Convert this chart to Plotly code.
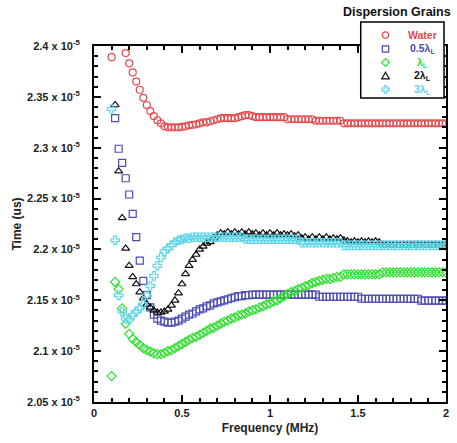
import numpy as np
import plotly.graph_objects as go

# Frequency grid (MHz): 0.10 .. 2.00, step 0.02 (96 points)
freq = [round(0.10 + 0.02 * i, 2) for i in range(96)]

# Time values in units of 1e-5 us (None = off the plotted range)
water = [2.389, None, None, None, 2.393, 2.383, 2.374, 2.365, 2.357, 2.349,
         2.342, 2.336, 2.331, 2.327, 2.324, 2.321, 2.320, 2.320, 2.320, 2.320,
         2.3205, 2.321, 2.322, 2.3225, 2.323, 2.324, 2.325, 2.325, 2.326, 2.327,
         2.328, 2.329, 2.329, 2.329, 2.329, 2.329, 2.330, 2.331, 2.332, 2.332,
         2.331, 2.330,
         2.330, 2.330, 2.330, 2.330, 2.330, 2.330, 2.330, 2.330,
         2.328, 2.328, 2.328, 2.328, 2.328, 2.328, 2.328, 2.328,
         2.3265, 2.3265, 2.3265, 2.3265, 2.3265, 2.3265, 2.3265, 2.3265,
         2.324, 2.324, 2.324, 2.324, 2.324, 2.324, 2.324, 2.324, 2.324, 2.324,
         2.324, 2.324, 2.324, 2.324, 2.324, 2.324, 2.324, 2.324, 2.324, 2.324,
         2.324, 2.324, 2.324, 2.324, 2.324, 2.324, 2.324, 2.324, 2.324, 2.324]

half_lambda = [None, 2.329, 2.299, 2.285, 2.270, 2.254, 2.235, 2.212, 2.189, 2.169,
               2.155, 2.143, 2.136, 2.132, 2.130, 2.129, 2.128, 2.128, 2.129, 2.130,
               2.132, 2.134, 2.136, 2.137, 2.139, 2.141, 2.142, 2.144, 2.145, 2.147,
               2.148, 2.149, 2.150, 2.151, 2.152, 2.153, 2.154, 2.154, 2.155, 2.155,
               2.1555, 2.1555,
               2.1555, 2.1555, 2.1555, 2.1555, 2.1555, 2.1555, 2.1555, 2.1555, 2.1555,
               2.1555, 2.1555, 2.1555, 2.1555, 2.1555, 2.1555, 2.1555, 2.1555,
               2.1535, 2.1535, 2.1535, 2.1535, 2.1535, 2.1535, 2.1535, 2.1535, 2.1535,
               2.1535, 2.1535, 2.1535,
               2.1515, 2.1515, 2.1515, 2.1515, 2.1515, 2.1515, 2.1515, 2.1515, 2.1515,
               2.1515, 2.1515, 2.1515, 2.1515, 2.1515, 2.1515, 2.1515, 2.1515,
               2.1497, 2.1497, 2.1497, 2.1497, 2.1497, 2.1497, 2.1497, 2.1497]

one_lambda = [2.0755, 2.168, 2.161, 2.142, 2.127, 2.117, 2.112, 2.109, 2.106, 2.103,
              2.101, 2.0995, 2.098, 2.097, 2.097, 2.098, 2.100, 2.101, 2.103, 2.105,
              2.107, 2.109, 2.111, 2.113, 2.114, 2.116, 2.118, 2.120, 2.122, 2.123,
              2.125, 2.127, 2.129, 2.130, 2.132, 2.133, 2.135, 2.136, 2.137, 2.139,
              2.140, 2.141, 2.143, 2.144, 2.146, 2.147, 2.149, 2.150, 2.152, 2.154,
              2.156, 2.158, 2.159, 2.161, 2.162, 2.164, 2.165, 2.167, 2.168, 2.169,
              2.170, 2.171, 2.171, 2.172, 2.173, 2.173,
              2.1755, 2.1755, 2.1755, 2.1755, 2.1755, 2.1755, 2.1755, 2.1755, 2.1755,
              2.1755, 2.1755,
              2.1775, 2.1775, 2.1775, 2.1775, 2.1775, 2.1775, 2.1775, 2.1775, 2.1775,
              2.1775, 2.1775, 2.1775, 2.1775, 2.1775, 2.1775, 2.1775, 2.1775, 2.1775,
              2.1775]

two_lambda = [None, 2.342, 2.277, 2.231, 2.201, 2.184, 2.173, 2.166, 2.158, 2.152,
              2.146, 2.143, 2.140, 2.138, 2.138, 2.139, 2.141, 2.145, 2.150, 2.157,
              2.166, 2.176, 2.184, 2.190, 2.195, 2.200, 2.203, 2.206, 2.2075, 2.211,
              2.214, 2.216, 2.215, 2.217, 2.215, 2.217, 2.215, 2.217, 2.215, 2.217,
              2.215, 2.216, 2.214, 2.216, 2.214, 2.216, 2.214, 2.216, 2.214, 2.215,
              2.214, 2.215, 2.213, 2.214, 2.211, 2.212, 2.210, 2.212, 2.210, 2.212,
              2.210, 2.212, 2.210, 2.211, 2.210, 2.211, 2.209, 2.208, 2.207, 2.208,
              2.207, 2.208, 2.207, 2.208, 2.207, 2.208, 2.207,
              2.2045, 2.2045, 2.2045, 2.2045, 2.2045, 2.2045, 2.2045, 2.2045, 2.2045,
              2.2045, 2.2045, 2.2045, 2.2045, 2.2045, 2.2045, 2.2045, 2.2045, 2.2045,
              2.2045]

three_lambda = [2.338, 2.209, 2.155, 2.139, 2.132, 2.131, 2.1355, 2.139, 2.142, 2.146,
                2.155, 2.164, 2.174, 2.184, 2.192, 2.198, 2.201, 2.204, 2.207, 2.209,
                2.210, 2.211, 2.211, 2.212, 2.212,
                2.212, 2.212, 2.212, 2.212, 2.212, 2.212, 2.212, 2.212, 2.212, 2.212,
                2.212, 2.212, 2.212,
                2.210, 2.210, 2.210, 2.210, 2.210, 2.210, 2.210, 2.210, 2.210, 2.210,
                2.210, 2.210, 2.210, 2.210, 2.210, 2.210,
                2.2065, 2.2065, 2.2065, 2.2065, 2.2065, 2.2065, 2.2065, 2.2065, 2.2065,
                2.2065, 2.2065, 2.2065,
                2.204, 2.204, 2.204, 2.204, 2.204, 2.204, 2.204, 2.204, 2.204, 2.204,
                2.204, 2.204, 2.204, 2.204, 2.204, 2.204, 2.204, 2.204, 2.204, 2.204,
                2.204, 2.204, 2.204, 2.204, 2.204, 2.204, 2.204, 2.204, 2.204, 2.204]

series_names = ["Water", "0.5λ<sub>L</sub>", "λ<sub>L</sub>", "2λ<sub>L</sub>", "3λ<sub>L</sub>"]
series_values = [water, half_lambda, one_lambda, two_lambda, three_lambda]
series_symbols = ["circle-open", "square-open", "diamond-open", "triangle-up-open", "cross-open"]
series_colors = ["#e5484a", "#4c4cb4", "#2fe02f", "#111111", "#5fd6ea"]

y_ticks = [2.05, 2.1, 2.15, 2.2, 2.25, 2.3, 2.35, 2.4]
x_ticks = [0, 0.5, 1, 1.5, 2]
SCALE = 1e-5

W, H = 457, 443
ML, MR, MT, MB = 94, 8, 46, 41
PW, PH = W - ML - MR, H - MT - MB


def px_x(px):
    return (px - ML) / PW


def px_y(py):
    return (H - MB - py) / PH


FONT = "Liberation Sans, Arial, Helvetica, sans-serif"
fig = go.Figure()
for name, vals, sym, col in zip(series_names, series_values, series_symbols, series_colors):
    yv = [None if v is None else v * SCALE for v in vals]
    fig.add_trace(go.Scatter(
        x=freq, y=yv, mode="markers", name=name, showlegend=False,
        marker=dict(symbol=sym, size=7, color=col, line=dict(width=1.2, color=col)),
    ))

axis_common = dict(
    showline=True, linecolor="black", linewidth=2, mirror="ticks",
    ticks="inside", ticklen=7, tickwidth=1.5, tickcolor="black",
    showgrid=False, zeroline=False,
    tickfont=dict(family=FONT, size=11, color="#222", weight="bold"),
)

fig.update_xaxes(
    **axis_common,
    range=[0, 2], tickvals=x_ticks, ticktext=[f"{t:g}" for t in x_ticks],
    minor=dict(tick0=0, dtick=0.1, ticks="inside", ticklen=4, tickwidth=1.5, tickcolor="black"),
    title=dict(text="Frequency (MHz)", font=dict(family=FONT, size=12, color="#222", weight="bold"),
               standoff=5),
)
fig.update_yaxes(
    **axis_common,
    range=[2.05 * SCALE, 2.4 * SCALE],
    tickvals=[t * SCALE for t in y_ticks],
    ticktext=[f"{t:g} x 10<sup>-5</sup>" for t in y_ticks],
    ticklabelstandoff=10,
    minor=dict(tick0=2.05 * SCALE, dtick=0.01 * SCALE, ticks="inside", ticklen=4,
               tickwidth=1.5, tickcolor="black"),
    title=dict(text="Time (us)", font=dict(family=FONT, size=12, color="#222", weight="bold"),
               standoff=3),
)

# ---- hand-built legend box (compact, like the original) ----
shapes = [dict(type="rect", xref="paper", yref="paper",
               x0=px_x(363), x1=px_x(447), y0=px_y(98), y1=px_y(22),
               fillcolor="white", line=dict(color="black", width=1.5), layer="above")]
annotations = []
row_y = [35, 49, 62.5, 76, 89.5]
sx, r = 388, 3.2
for i, (name, col) in enumerate(zip(series_names, series_colors)):
    cy = row_y[i]
    ln = dict(color=col, width=1.2)
    if i == 0:
        shapes.append(dict(type="circle", xref="paper", yref="paper",
                           x0=px_x(sx - r), x1=px_x(sx + r), y0=px_y(cy + r), y1=px_y(cy - r),
                           line=ln, layer="above"))
    elif i == 1:
        shapes.append(dict(type="rect", xref="paper", yref="paper",
                           x0=px_x(sx - r), x1=px_x(sx + r), y0=px_y(cy + r), y1=px_y(cy - r),
                           line=ln, layer="above"))
    elif i == 2:
        d = r + 0.8
        pts = [(sx, cy - d), (sx + d, cy), (sx, cy + d), (sx - d, cy)]
        path = "M" + " L".join(f"{px_x(a)},{px_y(b)}" for a, b in pts) + " Z"
        shapes.append(dict(type="path", xref="paper", yref="paper", path=path, line=ln, layer="above"))
    elif i == 3:
        d = r + 0.6
        pts = [(sx, cy - d), (sx + d, cy + d * 0.75), (sx - d, cy + d * 0.75)]
        path = "M" + " L".join(f"{px_x(a)},{px_y(b)}" for a, b in pts) + " Z"
        shapes.append(dict(type="path", xref="paper", yref="paper", path=path, line=ln, layer="above"))
    else:
        a, b = 1.3, 3.6
        pts = [(-a, -b), (a, -b), (a, -a), (b, -a), (b, a), (a, a), (a, b), (-a, b),
               (-a, a), (-b, a), (-b, -a), (-a, -a)]
        path = "M" + " L".join(f"{px_x(sx + u)},{px_y(cy + v)}" for u, v in pts) + " Z"
        shapes.append(dict(type="path", xref="paper", yref="paper", path=path, line=ln, layer="above"))
    annotations.append(dict(
        text=f"<b>{name}</b>", xref="paper", yref="paper", x=px_x(425), y=px_y(cy),
        xanchor="center", yanchor="middle", showarrow=False,
        font=dict(family=FONT, size=10.5, color=col),
    ))

annotations.append(dict(
    text="<b>Dispersion Grains</b>", xref="paper", yref="paper",
    x=px_x(456), y=px_y(12), xanchor="right", yanchor="middle", showarrow=False,
    font=dict(family=FONT, size=12.5, color="#111"),
))

fig.update_layout(
    width=W, height=H,
    margin=dict(l=ML, r=MR, t=MT, b=MB),
    paper_bgcolor="white", plot_bgcolor="white",
    font=dict(family=FONT),
    showlegend=False,
    shapes=shapes,
    annotations=annotations,
)

fig.write_html("out.html")
